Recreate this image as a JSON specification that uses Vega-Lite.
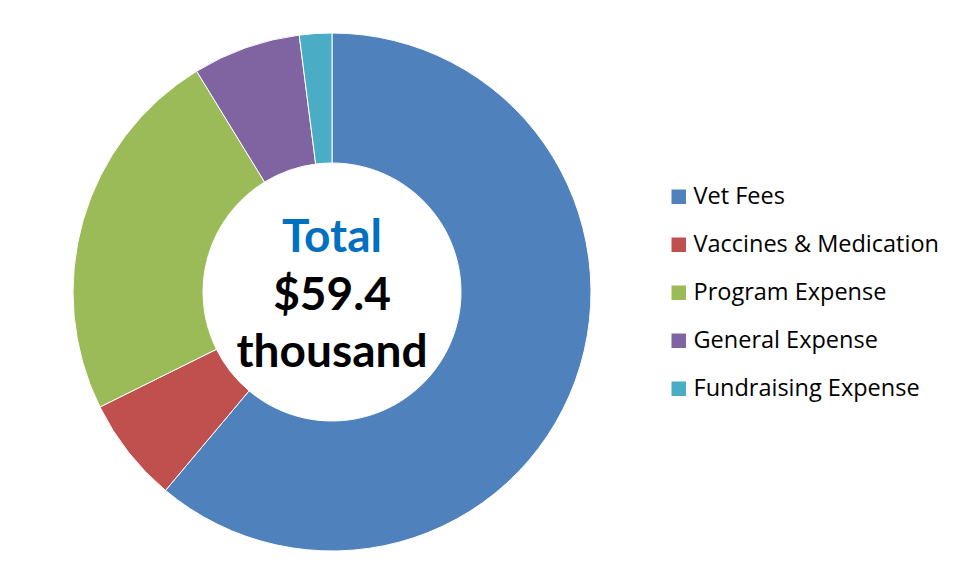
{
  "$schema": "https://vega.github.io/schema/vega-lite/v6.json",
  "width": 650,
  "height": 574,
  "padding": {"left": 7, "top": 5, "right": 0, "bottom": 0},
  "background": "white",
  "config": {"view": {"stroke": null}, "font": "Lato"},
  "layer": [
    {
      "data": {"values": [
        {"category": "Vet Fees", "amount": 36.3, "i": 1},
        {"category": "Vaccines & Medication", "amount": 3.9, "i": 2},
        {"category": "Program Expense", "amount": 14.0, "i": 3},
        {"category": "General Expense", "amount": 4.0, "i": 4},
        {"category": "Fundraising Expense", "amount": 1.2, "i": 5}
      ]},
      "mark": {"type": "arc", "outerRadius": 259, "innerRadius": 129, "stroke": "white", "strokeWidth": 1},
      "encoding": {
        "theta": {"field": "amount", "type": "quantitative", "stack": true},
        "order": {"field": "i", "type": "quantitative"},
        "color": {
          "field": "category",
          "type": "nominal",
          "sort": ["Vet Fees", "Vaccines & Medication", "Program Expense", "General Expense", "Fundraising Expense"],
          "scale": {
            "domain": ["Vet Fees", "Vaccines & Medication", "Program Expense", "General Expense", "Fundraising Expense"],
            "range": ["#4F81BD", "#C0504D", "#9BBB59", "#8064A2", "#4BACC6"]
          },
          "legend": {
            "title": null,
            "orient": "none",
            "legendX": 660,
            "legendY": 180,
            "symbolType": "square",
            "symbolSize": 210,
            "symbolStrokeWidth": 0,
            "labelFont": "Open Sans",
            "labelFontSize": 23.5,
            "labelColor": "#000000",
            "labelOffset": 3,
            "labelLimit": 400,
            "rowPadding": 23,
            "padding": 0
          }
        }
      }
    },
    {
      "data": {"values": [{"label": "Total"}]},
      "mark": {"type": "text", "font": "Lato", "fontWeight": "bold", "fontSize": 46, "color": "#0070C0", "baseline": "alphabetic", "align": "center", "dy": -40},
      "encoding": {"text": {"field": "label", "type": "nominal"}}
    },
    {
      "data": {"values": [{"label": "$59.4\nthousand"}]},
      "mark": {"type": "text", "font": "Lato", "fontWeight": "bold", "fontSize": 46, "color": "#000000", "baseline": "alphabetic", "align": "center", "dy": 18, "lineBreak": "\n", "lineHeight": 57},
      "encoding": {"text": {"field": "label", "type": "nominal"}}
    }
  ]
}
